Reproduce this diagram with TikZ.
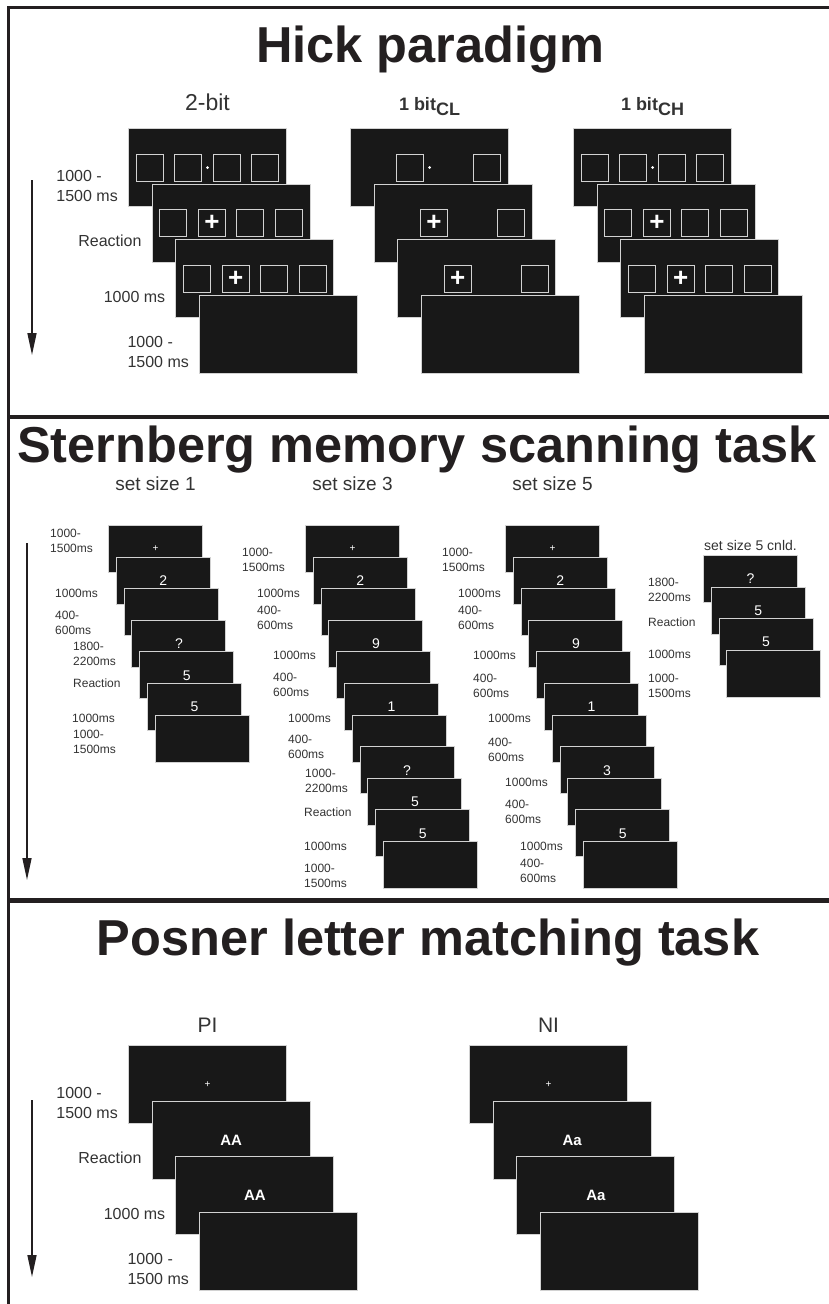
\documentclass[tikz,border=0pt]{standalone}
\usepackage{fontspec}
\setmainfont{Liberation Sans}
\usepackage{xcolor}
\usetikzlibrary{positioning, arrows.meta}
\definecolor{rulecol}{HTML}{231F20}
\definecolor{scr}{HTML}{181818}
\definecolor{rim}{HTML}{D2D2D2}
\definecolor{ink}{HTML}{333333}

\tikzset{
  screen/.style={rectangle, fill=scr, draw=rim, line width=1pt, inner sep=0pt, text=white},
  bigscreen/.style={screen, minimum width=158pt, minimum height=78pt, font=\fontsize{15}{15}\selectfont\bfseries},
  smallscreen/.style={screen, minimum width=94pt, minimum height=47pt, font=\fontsize{14}{14}\selectfont},
  cue/.style={rectangle, draw=rim, line width=1pt, minimum size=27pt, inner sep=0pt, text=white, font=\fontsize{26}{26}\selectfont\bfseries},
  fixdot/.style={circle, fill=white, minimum size=3pt, inner sep=0pt},
  headline/.style={anchor=base, text=rulecol, font=\fontsize{50.5}{55}\selectfont\bfseries},
  header/.style={text=ink, inner sep=0pt, font=\fontsize{21}{24}\selectfont},
  timelabel/.style={align=left, inner sep=0pt, text=ink, font=\fontsize{16}{20}\selectfont},
  slabel/.style={anchor=west, align=left, inner sep=0pt, text=ink, font=\fontsize{12}{15.5}\selectfont},
  timearrow/.style={-{Triangle[width=9pt,length=22pt]}, line width=1.6pt, draw=rulecol},
}

\begin{document}
\begin{tikzpicture}[x=1pt, y=-1pt]
    \useasboundingbox (0,0) rectangle (829,1304);
    % Add the frame
    \draw[rulecol, line width=3pt] (829,7) -- (8.5,7) -- (8.5,1304);
    \draw[rulecol, line width=4pt] (8.5,417) -- (829,417);
    \draw[rulecol, line width=5pt] (8.5,900) -- (829,900);

    % Add the titles
    \node[headline] (hick) at (430,62) {Hick paradigm};
    \node[headline] (stern) at (417,462) {Sternberg memory scanning task};
    \node[headline] (posner) at (428,955) {Posner letter matching task};

    % Hick: 2-bit
    \node[bigscreen, anchor=north west] (a1) at (128,128) {};
    \foreach \k/\dx in {1/-57.75,2/-19.25,3/19.25,4/57.75}
        \node[cue] (a1c\k) at ([xshift=\dx pt]a1.center) {};
    \node[fixdot] (a1f) at (a1.center) {};
    \node[bigscreen, below right=55.5pt and 23.7pt of a1.north west] (a2) {};
    \foreach \k/\dx in {1/-57.75,3/19.25,4/57.75}
        \node[cue] (a2c\k) at ([xshift=\dx pt]a2.center) {};
    \node[cue] (a2c2) at ([xshift=-19.25pt]a2.center) {+};
    \node[bigscreen, below right=55.5pt and 23.7pt of a2.north west] (a3) {};
    \foreach \k/\dx in {1/-57.75,3/19.25,4/57.75}
        \node[cue] (a3c\k) at ([xshift=\dx pt]a3.center) {};
    \node[cue] (a3c2) at ([xshift=-19.25pt]a3.center) {+};
    \node[bigscreen, below right=55.5pt and 23.7pt of a3.north west] (a4) {};
    \node[header, above=18pt of a1.north, anchor=base, font=\fontsize{23}{26}\selectfont] (ha) {2-bit};

    \node[timelabel, left=10pt of a1.west, yshift=-18pt] (ta1) {1000 -\\1500 ms};
    \node[timelabel, left=10pt of a2.west, yshift=-18pt] (ta2) {Reaction};
    \node[timelabel, left=10pt of a3.west, yshift=-18pt] (ta3) {1000 ms};
    \node[timelabel, left=10pt of a4.west, yshift=-18pt] (ta4) {1000 -\\1500 ms};
    \coordinate (hs) at (32,180);
    \coordinate (he) at (32,355);
    \draw[timearrow] (hs) -- (he);

    % Hick: 1 bit CL
    \node[bigscreen, anchor=north west] (b1) at (350,128) {};
    \foreach \k/\dx in {2/-19.25,4/57.75}
        \node[cue] (b1c\k) at ([xshift=\dx pt]b1.center) {};
    \node[fixdot] (b1f) at (b1.center) {};
    \node[bigscreen, below right=55.5pt and 23.7pt of b1.north west] (b2) {};
    \node[cue] (b2c2) at ([xshift=-19.25pt]b2.center) {+};
    \node[cue] (b2c4) at ([xshift=57.75pt]b2.center) {};
    \node[bigscreen, below right=55.5pt and 23.7pt of b2.north west] (b3) {};
    \node[cue] (b3c2) at ([xshift=-19.25pt]b3.center) {+};
    \node[cue] (b3c4) at ([xshift=57.75pt]b3.center) {};
    \node[bigscreen, below right=55.5pt and 23.7pt of b3.north west] (b4) {};
    \node[header, above=18pt of b1.north, anchor=base, font=\fontsize{18}{20}\selectfont\bfseries] (hb) {1 bit\raisebox{-5pt}{CL}};

    % Hick: 1 bit CH
    \node[bigscreen, anchor=north west] (c1) at (573,128) {};
    \foreach \k/\dx in {1/-57.75,2/-19.25,3/19.25,4/57.75}
        \node[cue] (c1c\k) at ([xshift=\dx pt]c1.center) {};
    \node[fixdot] (c1f) at (c1.center) {};
    \node[bigscreen, below right=55.5pt and 23.7pt of c1.north west] (c2) {};
    \foreach \k/\dx in {1/-57.75,3/19.25,4/57.75}
        \node[cue] (c2c\k) at ([xshift=\dx pt]c2.center) {};
    \node[cue] (c2c2) at ([xshift=-19.25pt]c2.center) {+};
    \node[bigscreen, below right=55.5pt and 23.7pt of c2.north west] (c3) {};
    \foreach \k/\dx in {1/-57.75,3/19.25,4/57.75}
        \node[cue] (c3c\k) at ([xshift=\dx pt]c3.center) {};
    \node[cue] (c3c2) at ([xshift=-19.25pt]c3.center) {+};
    \node[bigscreen, below right=55.5pt and 23.7pt of c3.north west] (c4) {};
    \node[header, above=18pt of c1.north, anchor=base, font=\fontsize{18}{20}\selectfont\bfseries] (hc) {1 bit\raisebox{-5pt}{CH}};

    % Sternberg: set size 1
    \node[smallscreen, anchor=north west] (s1a) at (108,525) {\fontsize{10}{10}\selectfont +};
    \node[smallscreen, below right=31.6pt and 7.8pt of s1a.north west] (s1b) {2};
    \node[smallscreen, below right=31.6pt and 7.8pt of s1b.north west] (s1c) {};
    \node[smallscreen, below right=31.6pt and 7.8pt of s1c.north west] (s1d) {?};
    \node[smallscreen, below right=31.6pt and 7.8pt of s1d.north west] (s1e) {5};
    \node[smallscreen, below right=31.6pt and 7.8pt of s1e.north west] (s1f) {5};
    \node[smallscreen, below right=31.6pt and 7.8pt of s1f.north west] (s1g) {};
    \node[header, above=35pt of s1a.north, anchor=base, font=\fontsize{19}{22}\selectfont] (hs1) {set size 1};
    \node[slabel] (l1a) at (50,541) {1000-\\1500ms};
    \node[slabel] (l1b) at (55,593) {1000ms};
    \node[slabel] (l1c) at (55,623) {400-\\600ms};
    \node[slabel] (l1d) at (73,654) {1800-\\2200ms};
    \node[slabel] (l1e) at (73,683) {Reaction};
    \node[slabel] (l1f) at (72,718) {1000ms};
    \node[slabel] (l1g) at (73,742) {1000-\\1500ms};
    \coordinate (ss) at (27,543);
    \coordinate (se) at (27,880);
    \draw[timearrow] (ss) -- (se);

    % Sternberg: set size 3
    \node[smallscreen, anchor=north west] (s3a) at (305,525) {\fontsize{10}{10}\selectfont +};
    \node[smallscreen, below right=31.6pt and 7.8pt of s3a.north west] (s3b) {2};
    \node[smallscreen, below right=31.6pt and 7.8pt of s3b.north west] (s3c) {};
    \node[smallscreen, below right=31.6pt and 7.8pt of s3c.north west] (s3d) {9};
    \node[smallscreen, below right=31.6pt and 7.8pt of s3d.north west] (s3e) {};
    \node[smallscreen, below right=31.6pt and 7.8pt of s3e.north west] (s3f) {1};
    \node[smallscreen, below right=31.6pt and 7.8pt of s3f.north west] (s3g) {};
    \node[smallscreen, below right=31.6pt and 7.8pt of s3g.north west] (s3h) {?};
    \node[smallscreen, below right=31.6pt and 7.8pt of s3h.north west] (s3i) {5};
    \node[smallscreen, below right=31.6pt and 7.8pt of s3i.north west] (s3j) {5};
    \node[smallscreen, below right=31.6pt and 7.8pt of s3j.north west] (s3k) {};
    \node[header, above=35pt of s3a.north, anchor=base, font=\fontsize{19}{22}\selectfont] (hs3) {set size 3};
    \node[slabel] (l3a) at (242,560) {1000-\\1500ms};
    \node[slabel] (l3b) at (257,593) {1000ms};
    \node[slabel] (l3c) at (257,618) {400-\\600ms};
    \node[slabel] (l3d) at (273,655) {1000ms};
    \node[slabel] (l3e) at (273,685) {400-\\600ms};
    \node[slabel] (l3f) at (288,718) {1000ms};
    \node[slabel] (l3g) at (288,747) {400-\\600ms};
    \node[slabel] (l3h) at (305,781) {1000-\\2200ms};
    \node[slabel] (l3i) at (304,812) {Reaction};
    \node[slabel] (l3j) at (304,846) {1000ms};
    \node[slabel] (l3k) at (304,876) {1000-\\1500ms};

    % Sternberg: set size 5
    \node[smallscreen, anchor=north west] (s5a) at (505,525) {\fontsize{10}{10}\selectfont +};
    \node[smallscreen, below right=31.6pt and 7.8pt of s5a.north west] (s5b) {2};
    \node[smallscreen, below right=31.6pt and 7.8pt of s5b.north west] (s5c) {};
    \node[smallscreen, below right=31.6pt and 7.8pt of s5c.north west] (s5d) {9};
    \node[smallscreen, below right=31.6pt and 7.8pt of s5d.north west] (s5e) {};
    \node[smallscreen, below right=31.6pt and 7.8pt of s5e.north west] (s5f) {1};
    \node[smallscreen, below right=31.6pt and 7.8pt of s5f.north west] (s5g) {};
    \node[smallscreen, below right=31.6pt and 7.8pt of s5g.north west] (s5h) {3};
    \node[smallscreen, below right=31.6pt and 7.8pt of s5h.north west] (s5i) {};
    \node[smallscreen, below right=31.6pt and 7.8pt of s5i.north west] (s5j) {5};
    \node[smallscreen, below right=31.6pt and 7.8pt of s5j.north west] (s5k) {};
    \node[header, above=35pt of s5a.north, anchor=base, font=\fontsize{19}{22}\selectfont] (hs5) {set size 5};
    \node[slabel] (l5a) at (442,560) {1000-\\1500ms};
    \node[slabel] (l5b) at (458,593) {1000ms};
    \node[slabel] (l5c) at (458,618) {400-\\600ms};
    \node[slabel] (l5d) at (473,655) {1000ms};
    \node[slabel] (l5e) at (473,686) {400-\\600ms};
    \node[slabel] (l5f) at (488,718) {1000ms};
    \node[slabel] (l5g) at (488,750) {400-\\600ms};
    \node[slabel] (l5h) at (505,782) {1000ms};
    \node[slabel] (l5i) at (505,812) {400-\\600ms};
    \node[slabel] (l5j) at (520,846) {1000ms};
    \node[slabel] (l5k) at (520,871) {400-\\600ms};

    % Sternberg: set size 5 cnld.
    \node[smallscreen, anchor=north west] (s6a) at (703,555) {?};
    \node[smallscreen, below right=31.6pt and 7.8pt of s6a.north west] (s6b) {5};
    \node[smallscreen, below right=31.6pt and 7.8pt of s6b.north west] (s6c) {5};
    \node[smallscreen, below right=31.6pt and 7.8pt of s6c.north west] (s6d) {};
    \node[header, above=5pt of s6a.north, anchor=base, font=\fontsize{14}{16}\selectfont] (hs6) {set size 5 cnld.};
    \node[slabel] (l6a) at (648,590) {1800-\\2200ms};
    \node[slabel] (l6b) at (648,622) {Reaction};
    \node[slabel] (l6c) at (648,654) {1000ms};
    \node[slabel] (l6d) at (648,686) {1000-\\1500ms};

    % Posner: PI
    \node[bigscreen, anchor=north west] (p1) at (128,1045) {\fontsize{10}{10}\selectfont\mdseries +};
    \node[bigscreen, below right=55.5pt and 23.7pt of p1.north west] (p2) {AA};
    \node[bigscreen, below right=55.5pt and 23.7pt of p2.north west] (p3) {AA};
    \node[bigscreen, below right=55.5pt and 23.7pt of p3.north west] (p4) {};
    \node[header, above=13pt of p1.north, anchor=base] (hp) {PI};
    \node[timelabel, left=10pt of p1.west, yshift=-18pt] (tp1) {1000 -\\1500 ms};
    \node[timelabel, left=10pt of p2.west, yshift=-18pt] (tp2) {Reaction};
    \node[timelabel, left=10pt of p3.west, yshift=-18pt] (tp3) {1000 ms};
    \node[timelabel, left=10pt of p4.west, yshift=-18pt] (tp4) {1000 -\\1500 ms};
    \coordinate (ps) at (32,1100);
    \coordinate (pe) at (32,1277);
    \draw[timearrow] (ps) -- (pe);

    % Posner: NI
    \node[bigscreen, anchor=north west] (n1) at (469,1045) {\fontsize{10}{10}\selectfont\mdseries +};
    \node[bigscreen, below right=55.5pt and 23.7pt of n1.north west] (n2) {Aa};
    \node[bigscreen, below right=55.5pt and 23.7pt of n2.north west] (n3) {Aa};
    \node[bigscreen, below right=55.5pt and 23.7pt of n3.north west] (n4) {};
    \node[header, above=13pt of n1.north, anchor=base] (hn) {NI};
\end{tikzpicture}
\end{document}
